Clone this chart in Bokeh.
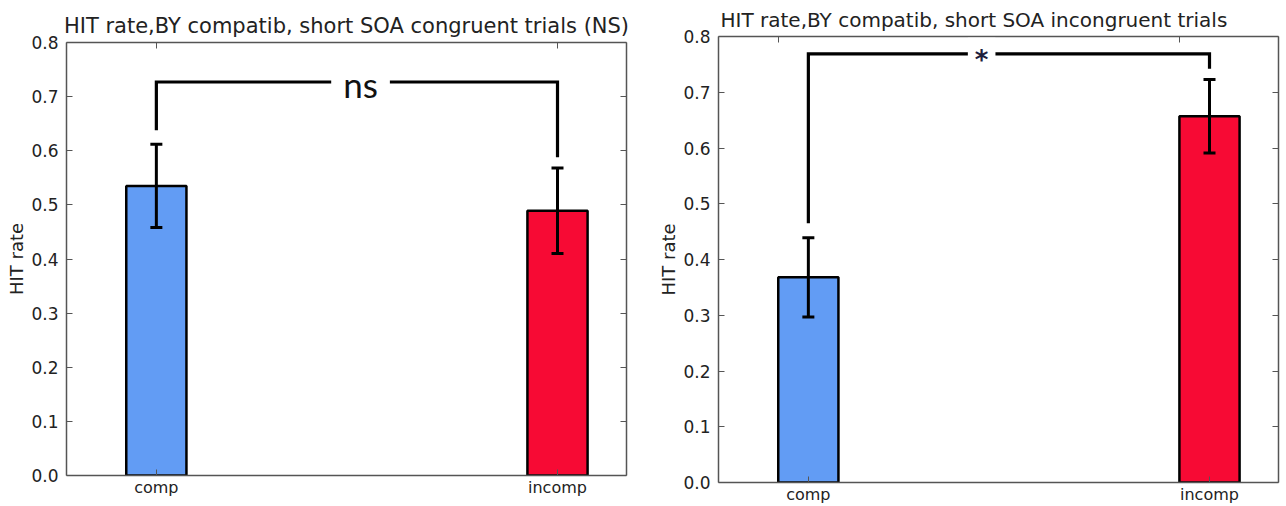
from bokeh.plotting import figure
from bokeh.models import (Range1d, FixedTicker, LinearAxis, Whisker, TeeHead,
                          ColumnDataSource, Label, NumeralTickFormatter)
from bokeh.core.templates import get_env
from bokeh.embed import file_html
from bokeh.resources import INLINE

# ---------------- data ----------------
categories = ["comp", "incomp"]
cong_rate = [0.535, 0.489]
cong_err = [0.077, 0.079]
incong_rate = [0.368, 0.657]
incong_err = [0.071, 0.066]
y_ticks = [0.0, 0.1, 0.2, 0.3, 0.4, 0.5, 0.6, 0.7, 0.8]
cong_title = "HIT rate,BY compatib, short SOA congruent trials (NS)"
incong_title = "HIT rate,BY compatib, short SOA incongruent trials"
y_label = "HIT rate"
cong_sig = "ns"
cong_bracket_y = 0.727
cong_leg_bottoms = [0.638, 0.588]
incong_sig = "*"
incong_bracket_y = 0.769
incong_leg_bottoms = [0.465, 0.742]

# ---------------- style ----------------
BAR_COLORS = ["#629CF4", "#F70A34"]
BAR_W = 0.15
FONT = "DejaVu Sans"
AX_COLOR = "#555555"


def style_axis(ax, labels=True):
    ax.axis_line_color = AX_COLOR
    ax.axis_line_width = 1.5
    ax.major_tick_in = 6
    ax.major_tick_out = 0
    ax.major_tick_line_color = AX_COLOR
    ax.major_tick_line_width = 1
    ax.minor_tick_line_color = None
    ax.major_label_text_font = FONT
    if labels:
        ax.major_label_text_font_size = "17px"
        ax.major_label_text_color = "#222222"
    else:
        ax.major_label_text_font_size = "1px"
        ax.major_label_text_color = None
        ax.major_label_standoff = 0


def make_panel(title, title_size, rates, errs, sig, bracket_y, leg_bottoms,
               sig_x, sig_font, sig_size, sig_style, sig_color, sig_pad,
               sig_yoff, edge_ticks, frame_w, frame_h, borders, title_align,
               title_offset):
    xs = list(range(len(categories)))
    p = figure(frame_width=frame_w, frame_height=frame_h,
               x_range=Range1d(-0.224, 1.172), y_range=Range1d(0, 0.8),
               x_axis_type=None, y_axis_type=None,
               output_backend="svg", toolbar_location=None,
               min_border_left=borders[0], min_border_right=borders[1],
               min_border_top=borders[2], min_border_bottom=borders[3])
    p.title.text = title
    p.title.text_font = FONT
    p.title.text_font_size = title_size
    p.title.text_font_style = "normal"
    p.title.text_color = "#222222"
    p.title.align = title_align
    p.title.offset = title_offset
    p.outline_line_color = None
    p.grid.visible = False
    p.background_fill_color = "white"
    p.border_fill_color = "white"

    # axes
    left = LinearAxis(ticker=FixedTicker(ticks=y_ticks),
                      formatter=NumeralTickFormatter(format="0.0"),
                      axis_label=y_label)
    style_axis(left)
    left.major_label_standoff = 8
    left.axis_label_text_font = FONT
    left.axis_label_text_font_size = "18px"
    left.axis_label_text_font_style = "normal"
    left.axis_label_text_color = "#222222"
    left.axis_label_standoff = 1
    p.add_layout(left, "left")

    right = LinearAxis(ticker=FixedTicker(ticks=y_ticks))
    style_axis(right, labels=False)
    p.add_layout(right, "right")

    bottom = LinearAxis(ticker=FixedTicker(ticks=xs),
                        major_label_overrides={i: c for i, c in zip(xs, categories)})
    style_axis(bottom)
    bottom.major_label_text_font_size = "16px"
    bottom.major_label_standoff = 2
    p.add_layout(bottom, "below")

    top_ticks = [x - BAR_W / 2 for x in xs] if edge_ticks else xs
    top = LinearAxis(ticker=FixedTicker(ticks=top_ticks))
    style_axis(top, labels=False)
    p.add_layout(top, "above")

    src = ColumnDataSource(dict(
        x=xs, rate=rates, color=BAR_COLORS,
        upper=[r + e for r, e in zip(rates, errs)],
        lower=[r - e for r, e in zip(rates, errs)]))
    p.vbar(x="x", top="rate", width=BAR_W, fill_color="color",
           line_color="black", line_width=2.5, source=src)

    wh = Whisker(base="x", upper="upper", lower="lower", source=src,
                 line_width=3, line_color="black", level="annotation",
                 upper_head=TeeHead(size=12, line_width=3, line_color="black"),
                 lower_head=TeeHead(size=12, line_width=3, line_color="black"))
    p.add_layout(wh)

    # significance bracket
    p.line(x=[xs[0], xs[0], xs[1], xs[1]],
           y=[leg_bottoms[0], bracket_y, bracket_y, leg_bottoms[1]],
           line_color="black", line_width=3.2, line_join="miter")
    lab = Label(x=sig_x, y=bracket_y, text=sig, text_align="center",
                text_baseline="middle", y_offset=sig_yoff,
                text_font=sig_font, text_font_size=sig_size,
                text_font_style=sig_style, text_color=sig_color,
                background_fill_color="white", padding=sig_pad)
    p.add_layout(lab)
    return p


p1 = make_panel(cong_title, "21px", cong_rate, cong_err, cong_sig,
                cong_bracket_y, cong_leg_bottoms, 0.509, "Lato", "35px",
                "normal", "#111111", 12, -2, False,
                560, 433, (58, 29, 42, 22), "center", 0)
p2 = make_panel(incong_title, "20px", incong_rate, incong_err, incong_sig,
                incong_bracket_y, incong_leg_bottoms, 0.432, FONT, "26px",
                "bold", "#1e1e3c", 7, -6, True,
                560, 446, (58, 2, 27, 21), "left", 2)

TEMPLATE = get_env().from_string("""
{% from macros import embed %}
{% extends base %}
{% block contents %}
<div style="display:flex;flex-direction:row;align-items:flex-start;">
{% for doc in docs %}{% for root in doc.roots %}<div style="padding-left:{{ 3 if loop.first else 0 }}px;">{{ embed(root) }}</div>{% endfor %}{% endfor %}
</div>
{% endblock %}
""")

open("out.html", "w").write(file_html([p1, p2], INLINE, template=TEMPLATE))
